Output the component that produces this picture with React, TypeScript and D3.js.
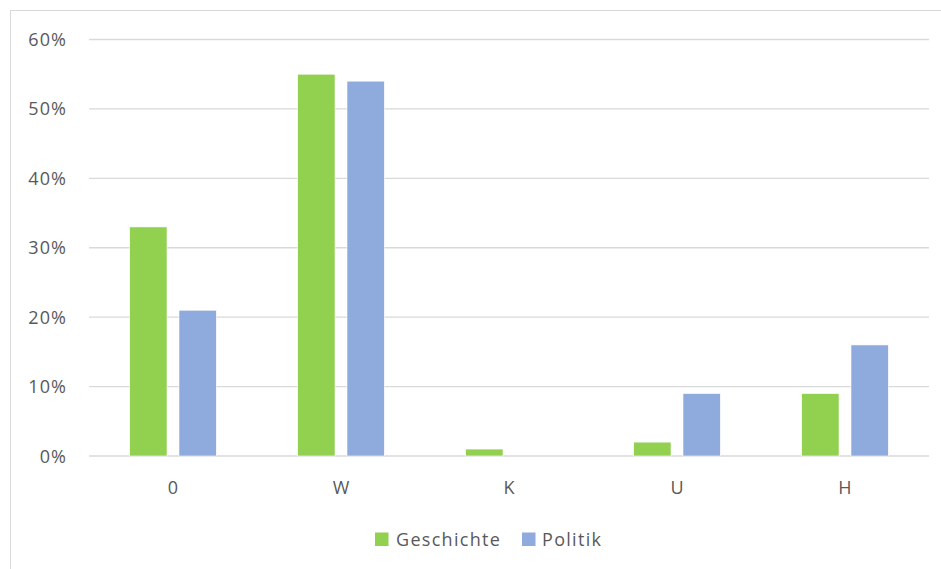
import React from "react";
import * as d3 from "d3";

// Share of answers per category, for the two school subjects
const categories = ["0", "W", "K", "U", "H"];
const seriesNames = ["Geschichte", "Politik"];
const geschichte = [0.33, 0.55, 0.01, 0.02, 0.09];
const politik = [0.21, 0.54, 0.0, 0.09, 0.16];
const yTicks = [0, 0.1, 0.2, 0.3, 0.4, 0.5, 0.6];

const colors: Record<string, string> = {
  Geschichte: "#92d050",
  Politik: "#8faadc",
};

const W = 941;
const H = 569;
const plot = { left: 89, right: 929, top: 39.5, bottom: 456 };
const textColor = "#595959";
const font = "'Open Sans', 'DejaVu Sans', sans-serif";

export default function App() {
  const x0 = d3
    .scaleBand<string>()
    .domain(categories)
    .range([plot.left, plot.right])
    .paddingInner(0)
    .paddingOuter(0);
  const x1 = d3
    .scaleBand<string>()
    .domain(seriesNames)
    .range([0, x0.bandwidth()])
    .paddingInner(0.243)
    .paddingOuter(0.825);
  const y = d3.scaleLinear().domain([0, 0.6]).range([plot.bottom, plot.top]);
  const fmt = d3.format(".0%");

  const values: Record<string, number[]> = {
    Geschichte: geschichte,
    Politik: politik,
  };

  return (
    <svg
      width={W}
      height={H}
      style={{ position: "absolute", left: 0, top: 0, background: "#fff" }}
      fontFamily={font}
    >
      <rect x={10.5} y={10.5} width={W} height={H} fill="#fff" stroke="#d9d9d9" strokeWidth={1} />

      {yTicks.map((t) => (
        <g key={t}>
          <line
            x1={plot.left}
            x2={plot.right}
            y1={y(t)}
            y2={y(t)}
            stroke="#d9d9d9"
            strokeWidth={1.3}
          />
          <text
            x={67}
            y={y(t) + 6.5}
            textAnchor="end"
            fontSize={18}
            letterSpacing={1.1}
            fill={textColor}
          >
            {fmt(t)}
          </text>
        </g>
      ))}

      {categories.map((c, i) => (
        <g key={c} transform={`translate(${x0(c)},0)`}>
          {seriesNames.map((s) => {
            const v = values[s][i];
            if (v <= 0) return null;
            return (
              <rect
                key={s}
                x={x1(s)}
                y={y(v)}
                width={x1.bandwidth()}
                height={y(0) - y(v)}
                fill={colors[s]}
                stroke="#ffffff"
                strokeWidth={0.6}
              />
            );
          })}
          <text
            x={x0.bandwidth() / 2}
            y={494}
            textAnchor="middle"
            fontSize={18}
            fill={textColor}
          >
            {c}
          </text>
        </g>
      ))}

      {/* legend */}
      <g>
        <rect x={375} y={532.5} width={13.5} height={13.5} fill={colors.Geschichte} />
        <text x={396} y={546} fontSize={18} letterSpacing={1.3} fill={textColor}>
          Geschichte
        </text>
        <rect x={522} y={532.5} width={13.5} height={13.5} fill={colors.Politik} />
        <text x={542} y={546} fontSize={18} letterSpacing={1.3} fill={textColor}>
          Politik
        </text>
      </g>
    </svg>
  );
}
